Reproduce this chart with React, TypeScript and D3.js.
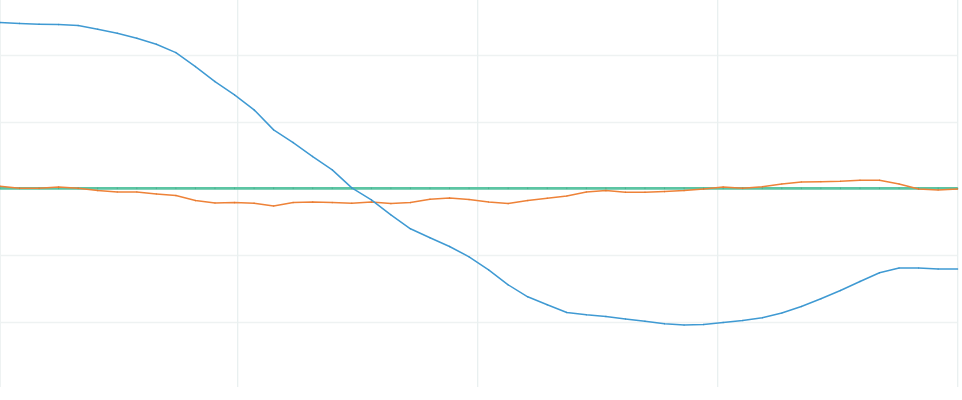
import React from "react";
import * as d3 from "d3";

// x positions: sample index 0..49
const sampleIndex: number[] = Array.from({ length: 50 }, (_, i) => i);

const blueValues: number[] = [
  2.486, 2.474, 2.462, 2.456, 2.441, 2.387, 2.327, 2.252, 2.162, 2.036,
  1.826, 1.601, 1.402, 1.177, 0.877, 0.687, 0.477, 0.277, 0.007, -0.172,
  -0.397, -0.607, -0.742, -0.873, -1.027, -1.222, -1.447, -1.627, -1.747, -1.862,
  -1.897, -1.922, -1.961, -1.994, -2.031, -2.051, -2.042, -2.012, -1.982, -1.942,
  -1.871, -1.772, -1.657, -1.532, -1.397, -1.267, -1.196, -1.196, -1.211, -1.211,
];

const orangeValues: number[] = [
  0.031, 0.0, 0.0, 0.021, 0.0, -0.034, -0.054, -0.054, -0.084, -0.109,
  -0.184, -0.219, -0.214, -0.223, -0.264, -0.214, -0.204, -0.214, -0.223, -0.204,
  -0.229, -0.214, -0.163, -0.144, -0.169, -0.204, -0.229, -0.184, -0.148, -0.114,
  -0.054, -0.034, -0.058, -0.058, -0.049, -0.034, -0.009, 0.021, 0.0, 0.025,
  0.066, 0.096, 0.1, 0.106, 0.121, 0.121, 0.066, -0.009, -0.024, -0.009,
];

const greenValues: number[] = sampleIndex.map(() => 0);

const xGridTicks: number[] = [-0.12, 12.16, 24.44, 36.72, 49];
const yGridTicks: number[] = [2, 1, 0, -1, -2];

const W = 962;
const H = 400;
const plotRight = 957.7;
const plotBottom = 387;

export default function App() {
  const x = d3.scaleLinear().domain([0, 49]).range([0, plotRight]);
  const y = d3.scaleLinear().domain([0, 1]).range([188.33, 121.66]);

  const line = (vals: number[]) =>
    d3
      .line<number>()
      .x((_, i) => x(sampleIndex[i]))
      .y((v) => y(v))(vals) || "";

  const series = [
    { vals: greenValues, color: "#5cc5a3", width: 2.6, marker: "#3f9e80" },
    { vals: orangeValues, color: "#ee8238", width: 1.5, marker: "#d8702a" },
    { vals: blueValues, color: "#3f9ad3", width: 1.5, marker: "#2f86bf" },
  ];

  return (
    <svg
      width={W}
      height={H}
      style={{ position: "absolute", left: 0, top: 0, background: "#fff" }}
    >
      <rect x={0} y={0} width={W} height={H} fill="#fff" />
      <g>
        {yGridTicks.map((t) => (
          <line
            key={"h" + t}
            x1={0}
            x2={plotRight}
            y1={Math.round(y(t)) + 0.5}
            y2={Math.round(y(t)) + 0.5}
            stroke="#eef2f2"
            strokeWidth={1.3}
          />
        ))}
        {xGridTicks.map((t) => (
          <line
            key={"v" + t}
            x1={x(t)}
            x2={x(t)}
            y1={0}
            y2={plotBottom}
            stroke="#e9f0f0"
            strokeWidth={1.3}
          />
        ))}
        <line x1={0.5} x2={0.5} y1={0} y2={plotBottom} stroke="#eef2f2" strokeWidth={1} />
      </g>
      {series.map((s, k) => (
        <g key={k}>
          <path
            d={line(s.vals)}
            fill="none"
            stroke={s.color}
            strokeWidth={s.width}
            strokeLinejoin="round"
          />
          {s.vals.map((v, i) => (
            <line
              key={i}
              x1={x(sampleIndex[i])}
              x2={x(sampleIndex[i])}
              y1={y(v) - 0.8}
              y2={y(v) + 0.8}
              stroke={s.marker}
              strokeWidth={1}
              opacity={0.6}
            />
          ))}
        </g>
      ))}
    </svg>
  );
}
